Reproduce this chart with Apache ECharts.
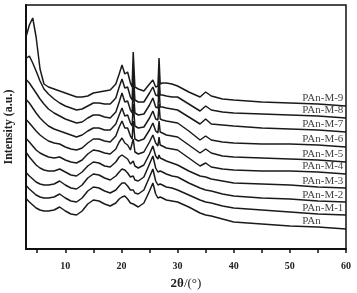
<!DOCTYPE html>
<html>
<head>
<meta charset="utf-8">
<script src="https://cdn.jsdelivr.net/npm/echarts@6/dist/echarts.min.js"></script>
<style>
  html, body { margin: 0; padding: 0; background: #fff; }
  #chart { width: 357px; height: 293px; }
</style>
</head>
<body>
<div id="chart"></div>
<script>
// 2-theta sampling positions (deg)
const twoTheta = [3.1, 3.6, 4.2, 4.8, 5.5, 6.2, 7, 8, 9, 10, 11, 12, 13, 14, 15, 16, 17, 18, 19, 19.6,
  20.1, 20.6, 21.1, 21.6, 21.9, 22.1, 22.4, 23, 24, 25, 25.6, 26.1, 26.5, 26.7, 26.9, 27.3, 28, 29, 30, 32,
  34, 35, 36, 38, 40, 45, 50, 55, 60];

// intensities (stacked, arbitrary units)
const pan = [50, 47, 44, 41, 39, 38, 38, 39, 42, 38, 35, 34, 38, 45, 49, 48, 45, 43, 46, 50,
  52, 53, 50, 46, 44, 45, 43, 42, 46, 58, 66, 55, 51, 52, 52, 51, 49, 48, 47, 42,
  36, 34, 33, 30, 27, 25, 23, 22, 20];
const m1 = [63, 60, 57, 54, 52, 51, 51, 52, 55, 51, 48, 47, 51, 58, 62, 61, 58, 56, 59, 63,
  66, 66, 63, 59, 57, 59, 56, 55, 59, 72, 80, 68, 64, 66, 65, 64, 62, 61, 59, 54,
  49, 47, 46, 43, 41, 39, 37, 35, 34];
const m2 = [76, 73, 70, 67, 65, 64, 64, 65, 68, 64, 61, 60, 64, 71, 75, 74, 71, 69, 73, 77,
  80, 79, 76, 72, 70, 73, 69, 68, 72, 85, 93, 81, 77, 79, 78, 77, 75, 73, 72, 66,
  61, 59, 58, 55, 53, 51, 50, 48, 47];
const m3 = [96, 92, 88, 84, 81, 79, 78, 78, 80, 77, 74, 73, 77, 83, 87, 86, 83, 82, 87, 92,
  94, 92, 90, 85, 83, 88, 83, 81, 84, 95, 103, 93, 90, 94, 91, 90, 88, 86, 84, 78,
  73, 72, 70, 68, 66, 65, 64, 62, 61];
const m4 = [110, 107, 103, 99, 96, 94, 92, 91, 92, 89, 87, 86, 89, 95, 99, 98, 96, 95, 100, 107,
  111, 106, 104, 99, 97, 110, 97, 95, 97, 107, 114, 106, 103, 112, 104, 103, 101, 100, 99, 91,
  83, 86, 82, 80, 79, 78, 78, 77, 75];
const m5 = [129, 126, 122, 118, 114, 111, 108, 106, 105, 102, 100, 99, 101, 106, 110, 110, 108, 107, 113, 122,
  128, 121, 121, 113, 110, 128, 110, 108, 110, 119, 126, 118, 116, 128, 117, 116, 114, 113, 112, 104,
  96, 100, 96, 93, 92, 91, 90, 89, 87];
const m6 = [149, 146, 141, 136, 131, 127, 123, 120, 118, 116, 114, 112, 114, 118, 121, 121, 119, 119, 125, 134,
  141, 133, 134, 126, 123, 145, 123, 121, 122, 131, 138, 130, 129, 145, 130, 129, 128, 127, 126, 118,
  109, 113, 109, 107, 106, 105, 105, 104, 102];
const m7 = [169, 166, 161, 156, 150, 145, 140, 136, 133, 130, 128, 126, 127, 131, 134, 134, 132, 131, 137, 147,
  156, 147, 148, 139, 136, 163, 136, 134, 135, 144, 151, 142, 141, 161, 142, 142, 141, 140, 139, 132,
  125, 130, 125, 124, 123, 121, 120, 119, 117];
const m8 = [191, 193, 186, 178, 168, 160, 155, 150, 146, 143, 141, 139, 140, 143, 146, 146, 145, 145, 151, 162,
  170, 161, 162, 152, 149, 179, 149, 147, 147, 156, 162, 154, 153, 175, 154, 154, 153, 152, 152, 145,
  138, 143, 139, 137, 136, 135, 134, 133, 131];
const m9 = [214, 224, 231, 212, 180, 165, 162, 160, 158, 156, 154, 152, 152, 153, 156, 157, 158, 159, 165, 175,
  184, 175, 177, 166, 162, 197, 162, 160, 158, 165, 169, 162, 163, 191, 165, 166, 166, 165, 163, 157,
  152, 157, 153, 150, 149, 147, 146, 145, 143];

const sampleNames = ['PAn', 'PAn-M-1', 'PAn-M-2', 'PAn-M-3', 'PAn-M-4', 'PAn-M-5', 'PAn-M-6', 'PAn-M-7', 'PAn-M-8', 'PAn-M-9'];
const curves = [pan, m1, m2, m3, m4, m5, m6, m7, m8, m9];
const xTicks = [5, 10, 15, 20, 25, 30, 35, 40, 45, 50, 55, 60];
const xLabels = [10, 20, 30, 40, 50, 60];

const serif = '"Liberation Serif", "DejaVu Serif", serif';
const chart = echarts.init(document.getElementById('chart'), null, { renderer: 'canvas' });

chart.setOption({
  animation: false,
  backgroundColor: '#fff',
  grid: {
    left: 26, right: 11, top: 5, bottom: 44,
    outerBoundsMode: 'none',
    show: true, borderColor: '#111', borderWidth: 1.5
  },
  xAxis: {
    type: 'value', min: 3, max: 60,
    name: '{b|2θ}{n|/(°)}',
    nameLocation: 'middle', nameGap: 28,
    nameTextStyle: { rich: {
      b: { fontFamily: serif, fontWeight: 'bold', fontSize: 13, color: '#222' },
      n: { fontFamily: serif, fontSize: 13, color: '#222' }
    } },
    axisLine: { lineStyle: { color: '#111', width: 2 } },
    axisTick: { customValues: xTicks, length: 4, lineStyle: { color: '#111', width: 1.5 } },
    axisLabel: { customValues: xLabels, margin: 12, fontFamily: serif, fontWeight: 'bold', fontSize: 10, color: '#222' },
    splitLine: { show: false }
  },
  yAxis: {
    type: 'value', min: 0, max: 244,
    name: 'Intensity (a.u.)',
    nameLocation: 'middle', nameGap: 11,
    nameTextStyle: { fontFamily: serif, fontWeight: 'bold', fontSize: 12, color: '#222' },
    axisLine: { show: true, lineStyle: { color: '#111', width: 2 } },
    axisTick: { show: false },
    axisLabel: { show: false },
    splitLine: { show: false }
  },
  series: curves.map((ys, i) => ({
    type: 'line',
    name: sampleNames[i],
    data: twoTheta.map((x, j) => [x, ys[j]]),
    showSymbol: false,
    silent: true,
    lineStyle: { color: '#1a1a1a', width: 1.5 },
    markPoint: {
      symbol: 'circle', symbolSize: 0, silent: true,
      data: [{ coord: [52.2, ys[twoTheta.indexOf(55)]] }],
      label: {
        show: true, position: 'right', distance: 0, offset: [0, -6],
        formatter: sampleNames[i],
        fontFamily: serif, fontSize: 11, color: '#444'
      }
    }
  }))
});
</script>
</body>
</html>
